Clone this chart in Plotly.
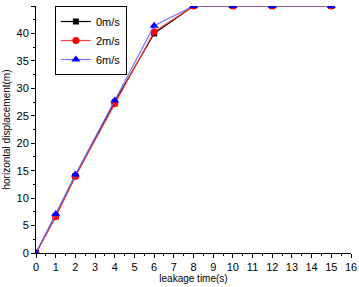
import plotly.graph_objects as go

time_s = [0, 1, 2, 4, 6, 8, 10, 12, 15]
v0 = [0, 6.7, 14.0, 27.5, 40.0, 45, 45, 45, 45]
v2 = [0, 6.6, 14.0, 27.2, 40.3, 45, 45, 45, 45]
v6 = [0, 7.1, 14.3, 27.8, 41.4, 45, 45, 45, 45]

series = [
    ("0m/s", v0, "black", "black", "square", 6),
    ("2m/s", v2, "red", "rgba(255,60,60,1)", "circle", 7),
    ("6m/s", v6, "blue", "rgba(90,90,255,0.85)", "triangle-up", 8),
]

fig = go.Figure()
for name, vals, col, lcol, sym, sz in series:
    fig.add_trace(go.Scatter(
        x=time_s, y=vals, name=name, mode="lines+markers",
        line=dict(color=lcol, width=1.2),
        marker=dict(symbol=sym, size=sz, color=col),
        cliponaxis=True,
    ))

FONT = "Liberation Sans, Arial"
axis_common = dict(
    showgrid=False, zeroline=False, showline=True, linecolor="black", linewidth=1,
    ticks="outside", ticklen=4, tickcolor="black", automargin=False,
    tickfont=dict(family=FONT, size=11, color="black"),
    minor=dict(ticks="outside", ticklen=2, tickcolor="black"),
)

fig.update_xaxes(range=[0, 16], dtick=1, title=dict(text="leakage time(s)", standoff=2,
                 font=dict(family=FONT, size=10, color="black")),
                 minor_dtick=0.5, **axis_common)
fig.update_yaxes(range=[0, 45], dtick=5, title=dict(text="horizontal displacement(m)", standoff=4,
                 font=dict(family=FONT, size=10, color="black")),
                 minor_dtick=2.5, **axis_common)

fig.update_layout(
    width=359, height=287,
    margin=dict(l=36, r=8, t=6, b=34),
    plot_bgcolor="white", paper_bgcolor="white",
    showlegend=True,
    legend=dict(x=0.06, y=1.0, xanchor="left", yanchor="top",
                bordercolor="black", borderwidth=1, bgcolor="white",
                font=dict(family=FONT, size=11, color="black"),
                tracegroupgap=0, itemwidth=30),
)

fig.write_html("out.html", config={"displayModeBar": False},
               post_script="document.body.style.margin='0';document.body.style.overflow='hidden';")
